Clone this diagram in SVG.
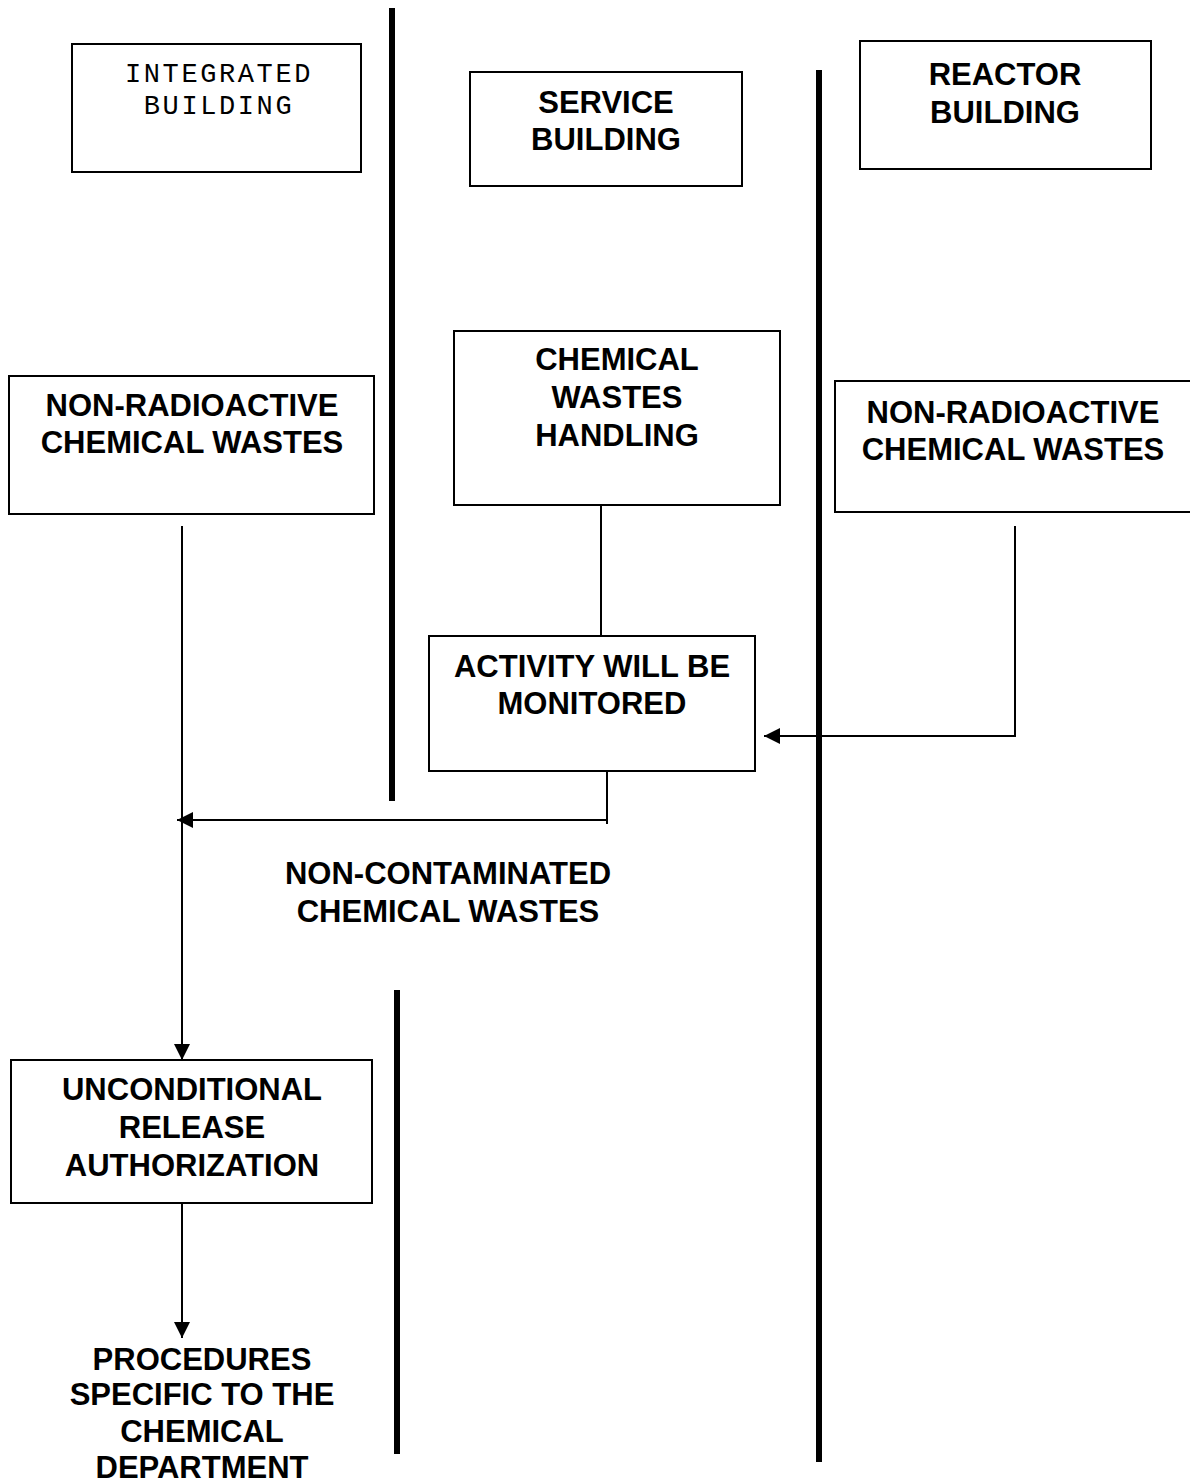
<svg xmlns="http://www.w3.org/2000/svg" width="1190" height="1483" viewBox="0 0 1190 1483">
<style>
.box{fill:#fff;stroke:#000;stroke-width:2}
.t{font-family:"Liberation Sans",Arial,sans-serif;font-weight:bold;font-size:31px;text-anchor:middle;fill:#000}
.m{font-family:"Courier New","Liberation Mono",monospace;font-size:27px;letter-spacing:2.6px;text-anchor:middle;fill:#000}
.sep{stroke:#000;stroke-width:6}
.c{stroke:#000;stroke-width:2;fill:none}
</style>
<defs>
<marker id="ah" markerWidth="18" markerHeight="18" refX="16" refY="9" orient="auto" markerUnits="userSpaceOnUse">
<path d="M0,1 L16,9 L0,17 Z" fill="#000"/>
</marker>
</defs>
<g id="separators">
<line class="sep" x1="392" y1="8" x2="392" y2="801"/>
<line class="sep" x1="819" y1="70" x2="819" y2="1462"/>
<line class="sep" x1="397" y1="990" x2="397" y2="1454"/>
</g>
<g id="integrated-building">
<rect class="box" x="72" y="44" width="289" height="128"/>
<text class="m" x="219" y="82">INTEGRATED</text>
<text class="m" x="219" y="114">BUILDING</text>
</g>
<g id="service-building">
<rect class="box" x="470" y="72" width="272" height="114"/>
<text class="t" x="606" y="113">SERVICE</text>
<text class="t" x="606" y="150">BUILDING</text>
</g>
<g id="reactor-building">
<rect class="box" x="860" y="41" width="291" height="128"/>
<text class="t" x="1005" y="85">REACTOR</text>
<text class="t" x="1005" y="123">BUILDING</text>
</g>
<g id="left-waste">
<rect class="box" x="9" y="376" width="365" height="138"/>
<text class="t" x="192" y="416">NON-RADIOACTIVE</text>
<text class="t" x="192" y="453">CHEMICAL WASTES</text>
</g>
<g id="chemical-handling">
<rect class="box" x="454" y="331" width="326" height="174"/>
<text class="t" x="617" y="370">CHEMICAL</text>
<text class="t" x="617" y="408">WASTES</text>
<text class="t" x="617" y="446">HANDLING</text>
</g>
<g id="right-waste">
<rect class="box" x="835" y="381" width="365" height="131"/>
<text class="t" x="1013" y="423">NON-RADIOACTIVE</text>
<text class="t" x="1013" y="460">CHEMICAL WASTES</text>
</g>
<g id="activity-monitored">
<rect class="box" x="429" y="636" width="326" height="135"/>
<text class="t" x="592" y="677">ACTIVITY WILL BE</text>
<text class="t" x="592" y="714">MONITORED</text>
</g>
<g id="non-contaminated-label">
<text class="t" x="448" y="884">NON-CONTAMINATED</text>
<text class="t" x="448" y="922">CHEMICAL WASTES</text>
</g>
<g id="release-authorization">
<rect class="box" x="11" y="1060" width="361" height="143"/>
<text class="t" x="192" y="1100">UNCONDITIONAL</text>
<text class="t" x="192" y="1138">RELEASE</text>
<text class="t" x="192" y="1176">AUTHORIZATION</text>
</g>
<g id="procedures">
<text class="t" x="202" y="1370">PROCEDURES</text>
<text class="t" x="202" y="1405">SPECIFIC TO THE</text>
<text class="t" x="202" y="1442">CHEMICAL</text>
<text class="t" x="202" y="1478">DEPARTMENT</text>
</g>
<g id="connectors">
<line class="c" x1="601" y1="505" x2="601" y2="636"/>
<polyline class="c" points="1015,526 1015,736 764,736" marker-end="url(#ah)"/>
<line class="c" x1="607" y1="771" x2="607" y2="824"/>
<line class="c" x1="606" y1="820" x2="177" y2="820" marker-end="url(#ah)"/>
<line class="c" x1="182" y1="526" x2="182" y2="1060" marker-end="url(#ah)"/>
<line class="c" x1="182" y1="1203" x2="182" y2="1338" marker-end="url(#ah)"/>
</g>
</svg>
